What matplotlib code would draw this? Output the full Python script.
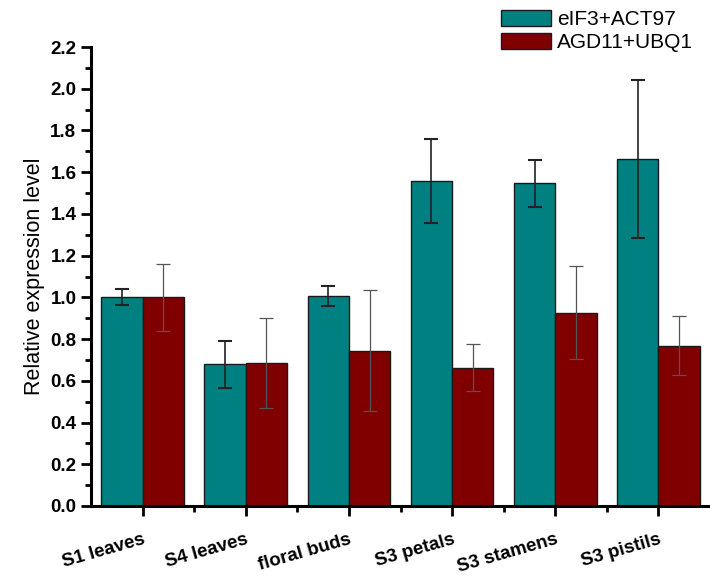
import numpy as np
import matplotlib.pyplot as plt
from matplotlib.ticker import MultipleLocator

plt.rcParams['font.family'] = ['Liberation Sans', 'DejaVu Sans']

# data
tissues = ['S1 leaves', 'S4 leaves', 'floral buds', 'S3 petals', 'S3 stamens', 'S3 pistils']
eif3_act97 = [1.00, 0.68, 1.007, 1.558, 1.547, 1.663]
eif3_err = [0.038, 0.113, 0.047, 0.202, 0.113, 0.378]
agd11_ubq1 = [1.00, 0.684, 0.743, 0.663, 0.927, 0.769]
agd11_err = [0.16, 0.215, 0.29, 0.112, 0.224, 0.141]
yticks = [0.0, 0.2, 0.4, 0.6, 0.8, 1.0, 1.2, 1.4, 1.6, 1.8, 2.0, 2.2]

teal = '#008080'
darkred = '#800000'

fig = plt.figure(figsize=(7.1, 5.77), dpi=100)
ax = fig.add_axes([91/710, 1-506/577, 1-91/710, (506-47)/577])

x = np.arange(1, len(tissues) + 1)
w = 0.4
ax.bar(x - w/2, eif3_act97, w, color=teal, edgecolor='#1a1a1a', linewidth=1.0,
       label='eIF3+ACT97', zorder=2)
ax.bar(x + w/2, agd11_ubq1, w, color=darkred, edgecolor='#1a1a1a', linewidth=1.0,
       label='AGD11+UBQ1', zorder=2)
ax.errorbar(x - w/2, eif3_act97, yerr=eif3_err, fmt='none', ecolor='#222222',
            elinewidth=1.2, capsize=5, capthick=1.5, zorder=3)
ax.errorbar(x + w/2, agd11_ubq1, yerr=agd11_err, fmt='none', ecolor='#555555',
            elinewidth=0.9, capsize=5, capthick=0.9, zorder=3)

ax.set_xlim(0.5, 6.5)
ax.set_ylim(0, 2.2)
ax.set_yticks(yticks)
ax.set_yticklabels(['%.1f' % v for v in yticks], fontsize=13.5, fontweight='bold')
ax.yaxis.set_minor_locator(MultipleLocator(0.1))
ax.set_xticks(x)
ax.set_xticks(x[:-1] + 0.5, minor=True)
ax.set_xticklabels(tissues, rotation=16, fontsize=13.5, fontweight='bold',
                   ha='right', va='top', rotation_mode='anchor')
ax.tick_params(axis='both', which='major', direction='out', length=7, width=2)
ax.tick_params(axis='both', which='minor', direction='out', length=4, width=2)
ax.tick_params(axis='x', which='major', pad=11)

ax.spines['top'].set_visible(False)
ax.spines['right'].set_visible(False)
ax.spines['left'].set_linewidth(2.2)
ax.spines['bottom'].set_linewidth(2.2)

ax.set_ylabel('Relative expression level', fontsize=15.5, labelpad=4)

fig.legend(loc='upper right', bbox_to_anchor=(1.0, 1.012), frameon=False,
           fontsize=15, handlelength=2.4, handleheight=0.8, handletextpad=0.3,
           labelspacing=0.18, borderaxespad=0.4)

fig.savefig('out.png', dpi=100)
